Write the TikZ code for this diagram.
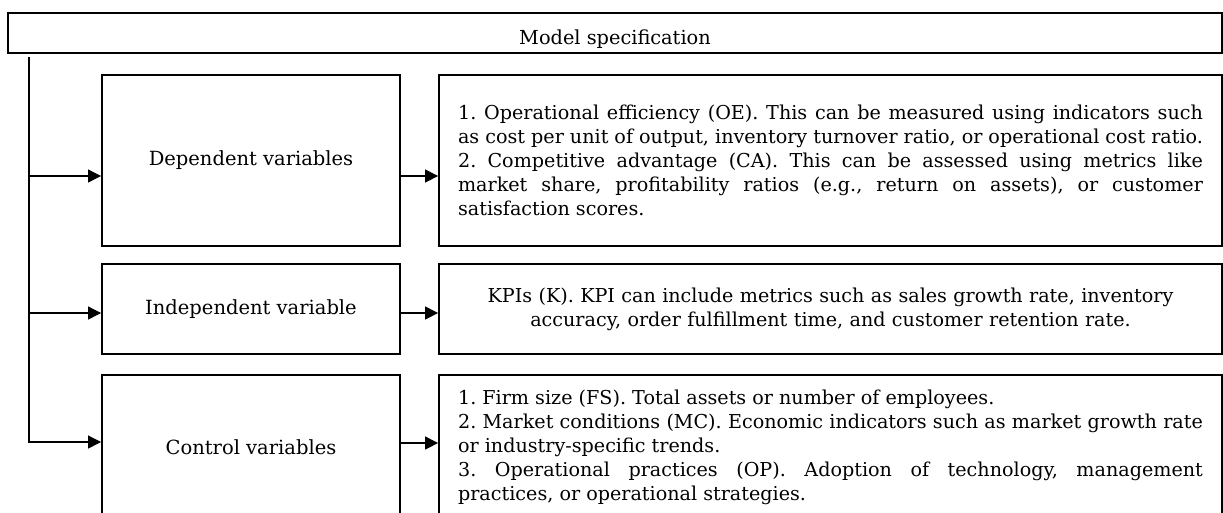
\documentclass[tikz,border=0pt]{standalone}
\usepackage{fontspec}
\setmainfont{DejaVu Serif}
\usetikzlibrary{arrows.meta,positioning}

\begin{document}
\begin{tikzpicture}[x=0.02cm,y=-0.02cm,
    frame/.style={draw=black, line width=1.1pt, inner sep=0pt},
    varbox/.style={frame, minimum width=5.96cm, align=center,
      font=\fontsize{11.1}{13}\selectfont},
    descbox/.style={frame, minimum width=15.66cm, text width=14.9cm,
      inner xsep=0.38cm, font=\frenchspacing\fontsize{10.9}{13.66}\selectfont},
    link/.style={draw=black, line width=0.6pt},
    arrow/.style={link, -{Triangle[length=0.26cm,width=0.26cm]}}]
  \useasboundingbox (0,0) rectangle (1223,512);

  % header
  \node[frame, minimum width=24.28cm, minimum height=0.8cm] (spec) at (615,33) {};
  \node[font=\fontsize{11}{13}\selectfont] (spectext) at (615,39) {Model specification};

  % variable groups
  \node[varbox, minimum height=3.42cm] (depvar) at (251,160.5) {Dependent variables};
  \node[varbox, minimum height=1.8cm] (indvar) at (251,309) {Independent variable};
  \node[varbox, minimum height=2.88cm] (ctrlvar) at (251,447) {Control variables};

  % descriptions
  \node[descbox, minimum height=3.42cm, align=justify] (deptext) at (830.5,160.5)
    {1. Operational efficiency (OE). This can be measured using indicators such\linebreak
     as cost per unit of output, inventory turnover ratio, or operational cost ratio.\\
     2. Competitive advantage (CA). This can be assessed using metrics like\linebreak
     market share, profitability ratios (e.g., return on assets), or customer\linebreak
     satisfaction scores.};
  \node[descbox, minimum height=1.8cm, align=center] (indtext) at (830.5,309)
    {KPIs (K). KPI can include metrics such as sales growth rate, inventory\\
     accuracy, order fulfillment time, and customer retention rate.};
  \node[descbox, minimum height=2.88cm, align=justify] (ctrltext) at (830.5,447)
    {1. Firm size (FS). Total assets or number of employees.\\
     2. Market conditions (MC). Economic indicators such as market growth rate\linebreak
     or industry-specific trends.\\
     3. Operational practices (OP). Adoption of technology, management\linebreak
     practices, or operational strategies.};

  % connectors
  \coordinate (trunk) at (29,57);
  \coordinate (depin) at ([yshift=-0.31cm]depvar.west);
  \coordinate (indin) at ([yshift=-0.08cm]indvar.west);
  \coordinate (ctrlin) at ([yshift=0.1cm]ctrlvar.west);
  \draw[arrow] (trunk) |- (ctrlin);
  \draw[arrow] (trunk |- depin) -- (depin);
  \draw[arrow] (trunk |- indin) -- (indin);

  \draw[arrow] ([yshift=-0.31cm]depvar.east) -- ([yshift=-0.31cm]deptext.west);
  \draw[arrow] ([yshift=-0.08cm]indvar.east) -- ([yshift=-0.08cm]indtext.west);
  \draw[arrow] ([yshift=0.08cm]ctrlvar.east) -- ([yshift=0.08cm]ctrltext.west);
\end{tikzpicture}
\end{document}
